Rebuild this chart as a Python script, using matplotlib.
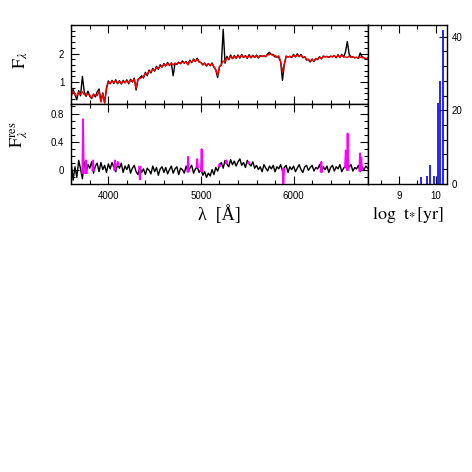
import matplotlib
matplotlib.use('Agg')
import matplotlib.pyplot as plt
import numpy as np
from matplotlib.ticker import MultipleLocator, FixedLocator

plt.rcParams['font.family'] = 'Liberation Sans'
plt.rcParams['font.size'] = 7
plt.rcParams['mathtext.fontset'] = 'stix'

# wavelength grid, 20 A steps
wave = np.arange(3600, 6801, 20)

flux_obs = [
    0.50, 0.74, 0.56, 0.38, 0.70, 0.52, 1.20, 0.66, 0.50, 0.68,
    0.50, 0.42, 0.58, 0.48, 0.66, 0.76, 0.32, 0.62, 0.28, 0.80,
    1.04, 0.94, 1.06, 0.95, 1.08, 0.94, 1.05, 0.93, 1.06, 0.97,
    1.08, 0.94, 1.10, 1.00, 1.14, 0.72, 1.08, 1.15, 1.22, 1.14,
    1.34, 1.22, 1.42, 1.32, 1.48, 1.38, 1.55, 1.44, 1.61, 1.52,
    1.65, 1.56, 1.69, 1.58, 1.67, 1.22, 1.66, 1.62, 1.70, 1.64,
    1.74, 1.66, 1.72, 1.62, 1.77, 1.68, 1.81, 1.72, 1.84, 1.70,
    1.69, 1.60, 1.67, 1.56, 1.65, 1.57, 1.67, 1.52, 1.42, 1.16,
    1.54, 1.60, 2.85, 1.66, 1.90, 1.78, 1.95, 1.82, 1.93, 1.83,
    1.95, 1.84, 1.97, 1.86, 1.93, 1.83, 1.96, 1.85, 1.94, 1.86,
    1.95, 1.84, 1.93, 1.90, 1.92, 1.89, 1.99, 2.04, 1.96, 1.97,
    1.88, 1.90, 1.86, 1.72, 1.06, 1.62, 1.91, 1.88, 1.90, 1.86,
    1.97, 1.88, 1.99, 1.89, 1.97, 1.85, 1.89, 1.77, 1.79, 1.70,
    1.81, 1.72, 1.83, 1.79, 1.89, 1.81, 1.91, 1.89, 1.90, 1.87,
    1.91, 1.89, 1.93, 1.85, 1.96, 1.86, 1.97, 1.88, 2.05, 2.42,
    1.98, 1.87, 1.89, 1.85, 1.87, 1.83, 2.02, 1.88, 1.86, 1.80,
    1.85,
]

flux_mod = [
    0.58, 0.68, 0.56, 0.52, 0.64, 0.57, 0.66, 0.56, 0.54, 0.58,
    0.54, 0.44, 0.56, 0.55, 0.52, 0.68, 0.30, 0.58, 0.26, 0.74,
    1.00, 0.96, 1.04, 0.98, 1.04, 0.96, 1.02, 0.95, 1.03, 0.98,
    1.05, 0.97, 1.07, 1.02, 1.10, 0.78, 1.10, 1.12, 1.16, 1.20,
    1.30, 1.28, 1.38, 1.36, 1.44, 1.42, 1.50, 1.48, 1.56, 1.54,
    1.62, 1.58, 1.65, 1.60, 1.66, 1.60, 1.66, 1.64, 1.67, 1.66,
    1.70, 1.68, 1.70, 1.60, 1.74, 1.70, 1.78, 1.73, 1.80, 1.70,
    1.68, 1.61, 1.66, 1.58, 1.64, 1.59, 1.64, 1.54, 1.44, 1.24,
    1.54, 1.62, 1.74, 1.74, 1.84, 1.80, 1.90, 1.83, 1.90, 1.85,
    1.92, 1.86, 1.93, 1.87, 1.91, 1.85, 1.92, 1.86, 1.92, 1.87,
    1.92, 1.86, 1.92, 1.90, 1.92, 1.90, 1.96, 1.96, 1.98, 1.92,
    1.93, 1.86, 1.92, 1.72, 1.36, 1.64, 1.90, 1.88, 1.90, 1.88,
    1.94, 1.89, 1.95, 1.90, 1.94, 1.87, 1.88, 1.80, 1.80, 1.73,
    1.79, 1.74, 1.82, 1.80, 1.87, 1.83, 1.90, 1.88, 1.89, 1.87,
    1.90, 1.88, 1.92, 1.87, 1.93, 1.88, 1.94, 1.88, 1.88, 1.86,
    1.92, 1.86, 1.88, 1.85, 1.87, 1.84, 1.88, 1.85, 1.86, 1.81,
    1.84,
]

resid = [
    0.10, -0.14, 0.05, -0.10, 0.14, 0.02, -0.12, 0.12, -0.04, 0.08,
    0.03, 0.12, -0.04, 0.06, 0.10, -0.02, 0.11, 0.01, 0.07, -0.03,
    0.09, 0.02, 0.11, 0.04, -0.02, 0.08, 0.03, 0.10, -0.03, 0.06,
    0.01, 0.08, -0.04, 0.03, 0.07, -0.02, -0.06, 0.05, -0.03, 0.02,
    -0.06, 0.03, 0.00, -0.05, 0.06, -0.02, 0.04, -0.07, 0.02, 0.05,
    -0.03, 0.04, -0.05, 0.01, 0.06, -0.04, 0.02, 0.05, -0.06, 0.03,
    0.01, -0.04, 0.06, -0.02, 0.03, 0.07, -0.04, 0.02, 0.05, -0.03,
    0.02, -0.07, -0.02, -0.10, -0.04, -0.08, 0.01, -0.06, 0.04, -0.01,
    0.06, 0.11, 0.03, 0.14, 0.09, 0.05, 0.15, 0.08, 0.13, 0.06,
    0.12, 0.16, 0.07, 0.11, 0.04, 0.14, 0.09, 0.06, 0.12, 0.03,
    0.07, 0.01, 0.05, -0.02, 0.08, 0.03, -0.01, 0.06, 0.02, 0.07,
    -0.02, 0.05, 0.02, 0.08, -0.01, 0.04, 0.07, -0.03, 0.05, 0.01,
    0.06, -0.02, 0.03, 0.08, 0.01, -0.03, 0.05, 0.07, 0.00, 0.04,
    0.07, -0.01, 0.04, 0.02, 0.08, -0.02, 0.05, 0.01, 0.06, -0.03,
    0.04, 0.07, -0.01, 0.05, 0.02, 0.08, -0.02, 0.03, 0.06, 0.00,
    0.05, 0.08, -0.01, 0.04, 0.02, 0.07, -0.02, 0.05, 0.01, 0.06,
    0.03,
]

# masked (emission line) residuals, drawn in magenta
line_wave = [3727, 3760, 3835, 4070, 4102, 4340, 4861, 4959, 5007,
             5200, 5275, 5515, 5890, 6300, 6563, 6583, 6717, 6731]
line_peak = [0.72, 0.14, 0.14, 0.14, 0.12, -0.13, 0.19, 0.16, 0.30,
             0.09, 0.14, 0.12, -0.19, 0.12, 0.28, 0.52, 0.24, 0.18]

# star formation history
log_age = [9.61, 9.77, 9.83, 9.94, 10.06, 10.12, 10.19]
light_frac = [1.9, 2.1, 5.2, 2.2, 21.9, 27.9, 41.8]


def style_axes(ax):
    ax.tick_params(which='both', direction='in', top=True, right=True,
                   width=0.8)
    ax.tick_params(which='major', length=5.5)
    ax.tick_params(which='minor', length=3)
    for s in ax.spines.values():
        s.set_linewidth(1.0)


fig = plt.figure(figsize=(4.72, 4.72), dpi=100)
ax1 = fig.add_axes([0.151, 0.779, 0.628, 0.168])
ax2 = fig.add_axes([0.151, 0.6106, 0.628, 0.1684], sharex=ax1)
ax3 = fig.add_axes([0.779, 0.6106, 0.1686, 0.3364])

# spectrum + model
ax1.plot(wave, flux_obs, color='black', lw=1.0)
ax1.plot(wave, flux_mod, color='red', lw=1.0)
ax1.set_xlim(3600, 6800)
ax1.set_ylim(0.22, 3.0)
ax1.yaxis.set_major_locator(FixedLocator([1, 2]))
ax1.yaxis.set_minor_locator(MultipleLocator(0.2))
ax1.xaxis.set_major_locator(MultipleLocator(1000))
ax1.xaxis.set_minor_locator(MultipleLocator(200))
style_axes(ax1)
ax1.tick_params(labelbottom=False, pad=5)
ax1.set_ylabel(r'$\mathrm{F}_{\lambda}$', fontsize=13)
ax1.yaxis.set_label_coords(-0.14, 0.56)

# residuals
ax2.plot(wave, resid, color='black', lw=1.0)
hw = 8
for w, p in zip(line_wave, line_peak):
    base = np.interp(w, wave, resid)
    ax2.plot([w - hw, w, w + hw], [base, p, base], color='magenta', lw=1.3)
ax2.set_ylim(-0.19, 0.93)
ax2.yaxis.set_major_locator(MultipleLocator(0.4))
ax2.yaxis.set_minor_locator(MultipleLocator(0.1))
ax2.yaxis.set_major_formatter(lambda v, pos: '0' if abs(v) < 1e-9 else f'{v:.1f}')
style_axes(ax2)
ax2.tick_params(pad=5)
ax2.set_xlabel(u'\u03bb  [\u00c5]', fontsize=13, family='Liberation Serif',
               labelpad=3)
ax2.set_ylabel(r'$\mathrm{F}_{\lambda}^{\mathrm{res}}$', fontsize=13)
ax2.yaxis.set_label_coords(-0.14, 0.62)

# age distribution
ax3.vlines(log_age, 0, light_frac, color='blue', lw=1.2)
ax3.set_xlim(8.15, 10.31)
ax3.set_ylim(0, 43.2)
ax3.xaxis.set_major_locator(MultipleLocator(1))
ax3.xaxis.set_minor_locator(MultipleLocator(0.5))
ax3.yaxis.set_major_locator(MultipleLocator(20))
ax3.yaxis.set_minor_locator(MultipleLocator(4))
style_axes(ax3)
ax3.tick_params(which='both', left=False, labelleft=False, labelright=True)
ax3.tick_params(axis='y', pad=3)
ax3.tick_params(axis='x', pad=5)
ax3.set_xlabel(r'$\mathrm{log\ \ t_{*}[yr]}$', fontsize=13, labelpad=3)

fig.savefig('out.png', dpi=100)
